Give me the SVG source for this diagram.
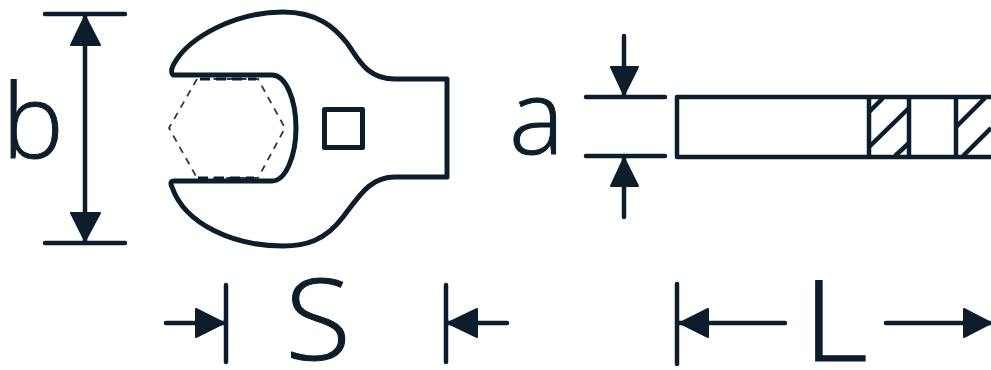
<svg xmlns="http://www.w3.org/2000/svg" width="991" height="370" viewBox="0 0 991 370">
<style>
.l{fill:none;stroke:#0c1d2b;stroke-width:4.500;stroke-linecap:round;stroke-linejoin:round}
.w{stroke-width:5}
.h{fill:#0c1d2b;stroke:#0c1d2b;stroke-width:2;stroke-linejoin:round}
.d{fill:none;stroke:#2b3a47;stroke-width:1.800;stroke-dasharray:7 6}
.t{font-family:"Open Sans","Liberation Sans",sans-serif;font-size:112px;font-weight:300;fill:#0c1d2b;stroke:#0c1d2b;stroke-width:1}
.s{font-size:104px}
</style>
<rect width="991" height="370" fill="#fff"/>
<g id="wrench">
<path class="l w" d="M173 75C170 72 172 67 175 62C190 37 235 12 283 12C318 12 335 28 347 43C358 58 366 79 395 79L447 79L447 177L395 177C370 177 360 195 343 217C325 241 305 246 283 246C235 246 185 225 172 187C170 183 171 181 174 181L272 181C286 181 296 155 296 128C296 100 286 75 272 75Z"/>
<path class="d" d="M197 79L169 128L197 178H258L285 128L258 79Z"/>
<path d="M200 79H256M198 178H254" fill="none" stroke="#0c1d2b" stroke-width="3" stroke-dasharray="10 6"/>
<rect class="l w" x="324.500" y="109.500" width="38" height="38"/>
</g>
<g id="shank">
<path class="l" d="M991 97H677V157H991M869 97V157M909 97V157M956 97V157"/>
<path class="l" style="stroke-linecap:butt" d="M869 112L883 98M869 147L909 108M895 156L909 143M956 127L985 98M963 156L991 128"/>
</g>
<g id="connectors">
<path class="l" d="M45 14H125M45 243H125M85 14V243M586 97H665M586 156H665M624 36V97M624 156V217M226 285V362M166 323H226M446 285V362M446 323H507M677 284V364M677 323H785M886 323H990"/>
<path class="h" d="M85 16L71 45H100ZM85 241L71 213H100ZM624 95L611 67H638ZM624 158L611 186H638ZM224 323L196 309V337ZM448 323L477 309V337ZM680 323L708 309V337ZM991 323L964 309V337Z"/>
</g>
<g id="labels">
<text class="t s" x="2" y="158">b</text>
<text class="t s" x="509" y="154">a</text>
<text class="t" transform="translate(285 360) scale(1.080 1)">S</text>
<text class="t" transform="translate(803 361) scale(1.130 1)">L</text>
</g>
</svg>
